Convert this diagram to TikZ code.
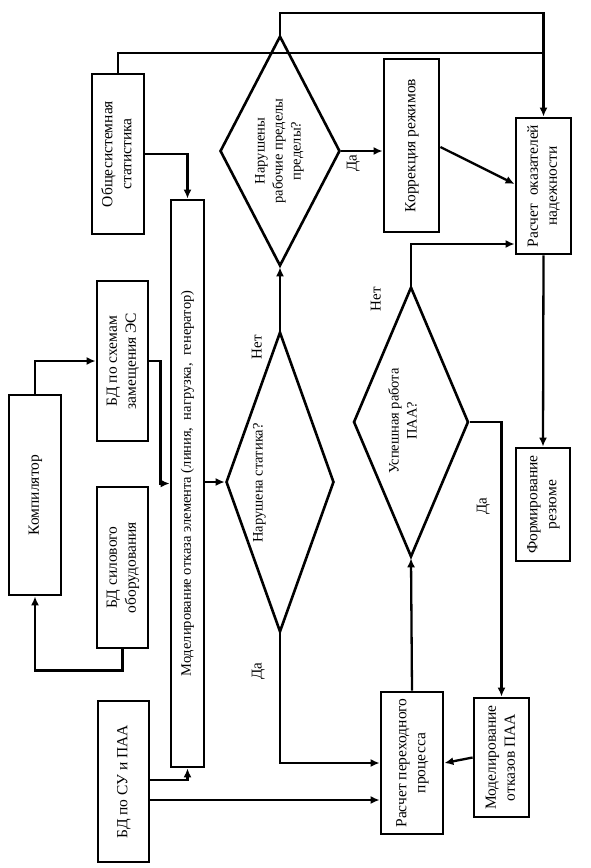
\documentclass[tikz,border=0pt]{standalone}
\usepackage{fontspec}
\setmainfont{Liberation Serif}
\usepackage{tikz}
\usetikzlibrary{arrows.meta,shapes.geometric}

% rotated text, reads bottom to top
\newcommand{\vt}[1]{\rotatebox{90}{\begin{tabular}{@{}c@{}}#1\end{tabular}}}

\tikzset{
	block/.style={draw, line width=2.8pt, inner sep=0pt, rectangle, font=\fontsize{15.5}{19}\selectfont},
	decide/.style={draw, line width=2.6pt, inner sep=0pt, diamond, shape aspect=1},
	qtext/.style={inner sep=0pt, font=\fontsize{14.5}{18}\selectfont},
	lbl/.style={inner sep=0pt, font=\fontsize{15}{18}\selectfont}
}

\begin{document}
\begin{tikzpicture}[x=1pt, y=-1pt, line width=2.3pt, >={Latex[length=9pt,width=8pt]}]
	\useasboundingbox (0,0) rectangle (591,868);

	% Boxes
	\node[block, minimum width=52, minimum height=160] (stat) at (118,154) {\vt{Общесистемная\\статистика}};
	\node[block, minimum width=33, minimum height=567, font=\fontsize{14.5}{17}\selectfont] (model) at (187.5,483.5) {\vt{Моделирование отказа элемента (линия,\ \ нагрузка,\ \ генератор)}};
	\node[block, minimum width=52, minimum height=200] (comp) at (35,495) {\vt{Компилятор}};
	\node[block, minimum width=51, minimum height=160] (bdsch) at (122.5,361) {\vt{БД по схемам\\замещения ЭС}};
	\node[block, minimum width=51, minimum height=161] (bdsil) at (122.5,567.5) {\vt{БД силового\\оборудования}};
	\node[block, minimum width=51, minimum height=161] (bdsu) at (123.5,781.5) {\vt{БД по СУ и ПАА}};
	\node[block, minimum width=55, minimum height=173] (corr) at (411.5,145.5) {\vt{Коррекция режимов}};
	\node[block, minimum width=55, minimum height=136] (rel) at (543.5,186) {\vt{Расчет\ \ оказателей\\надежности}};
	\node[block, minimum width=54, minimum height=113] (summ) at (543,504.5) {\vt{Формирование\\резюме}};
	\node[block, minimum width=62, minimum height=142] (trans) at (412,763) {\vt{Расчет переходного\\процесса}};
	\node[block, minimum width=55, minimum height=119] (mpaa) at (501.5,757.5) {\vt{Моделирование\\отказов ПАА}};

	% Decisions
	\node[decide, minimum width=108, minimum height=300] (stat-q) at (280,482) {};
	\node[qtext] (stat-q-txt) at (259,483) {\vt{Нарушена статика?}};
	\node[decide, minimum width=120, minimum height=230] (lim-q) at (280,151) {};
	\node[qtext] (lim-q-txt) at (279,151) {\vt{Нарушены\\рабочие пределы\\пределы?}};
	\node[decide, minimum width=115, minimum height=270] (paa-q) at (411,422) {};
	\node[qtext] (paa-q-txt) at (404,421) {\vt{Успешная работа\\ПАА?}};

	% Answers
	\node[lbl] (yes1) at (258,671) {\vt{Да}};
	\node[lbl] (no1) at (258,347) {\vt{Нет}};
	\node[lbl] (yes2) at (353,163) {\vt{Да}};
	\node[lbl] (no3) at (377,299) {\vt{Нет}};
	\node[lbl] (yes3) at (483,506) {\vt{Да}};

	% Connections
	\draw[->] (stat.north) -- (stat.north |- 0,53) -| (rel.north);
	\draw (lim-q.north) -- (lim-q.north |- 0,13) -| (rel.north |- 0,53);
	\draw[->] (stat.east) -| (model.north);
	\draw[->] (comp.north) |- (bdsch.west);
	\draw[->] (bdsch.east) -- ++(11,0) |- (model.west);
	\draw[->] (bdsil.south) -- ++(0,21) -| (comp.south);
	\draw[->] (bdsu.east |- 0,780) -| (model.south);
	\draw[->] (bdsu.east |- 0,800) -- (trans.west |- 0,800);
	\draw[->] (model.east |- stat-q.west) -- (stat-q.west);
	\draw[->] (stat-q.south) |- (trans.west);
	\draw[->] (stat-q.north) -- (lim-q.south);
	\draw[->] (lim-q.east) -- (corr.west |- lim-q.east);
	\draw[->] (corr.east |- 0,147) -- (rel.west |- 0,184);
	\draw[->] (paa-q.north) |- (rel.west |- 0,244);
	\draw[->] (rel.south) -- (summ.north);
	\draw[->] (trans.north) -- (paa-q.south);
	\draw[->] (paa-q.east) -| (mpaa.north);
	\draw[->] (mpaa.west) -- (trans.east);

\end{tikzpicture}
\end{document}
